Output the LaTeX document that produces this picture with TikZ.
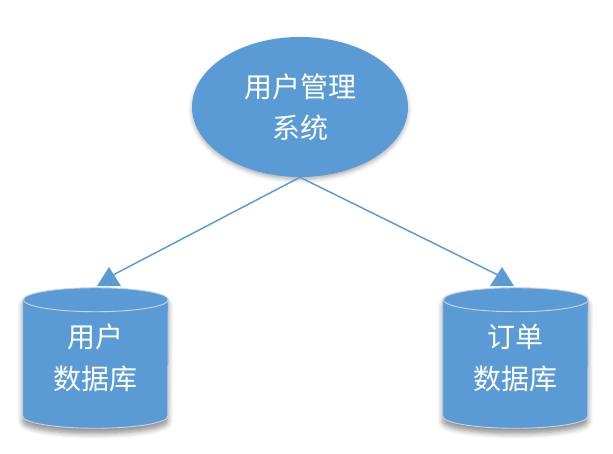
\documentclass[tikz,border=0pt]{standalone}
\usepackage{fontspec}
\newfontfamily\cjk{Noto Sans CJK SC}
\usetikzlibrary{shapes.geometric,shadows.blur}
\definecolor{blu}{HTML}{5B9BD5}
\definecolor{rim}{HTML}{C8D3DE}
\begin{document}
\begin{tikzpicture}[x=0.75pt,y=-0.75pt,
  lbl/.style={text=white, font=\cjk\fontsize{21pt}{31pt}\selectfont, align=center, inner sep=0pt},
  conn/.style={draw=blu, line width=1.1pt},
  tipmark/.style={fill=blu},
  cylbox/.style={minimum width=108.75pt, minimum height=105pt, inner sep=0pt},
  cylbody/.style={fill=blu, draw=rim, line width=0.7pt,
    blur shadow={shadow xshift=0pt, shadow yshift=-4pt, shadow blur steps=6, shadow opacity=45, shadow blur radius=4pt, fill=blu}},
  rimline/.style={draw=rim, line width=0.7pt}]
\useasboundingbox (0,0) rectangle (613,453);
% central system
\node[ellipse, fill=blu, minimum width=162pt, minimum height=105pt, lbl,
  blur shadow={shadow xshift=0pt, shadow yshift=-2pt, shadow opacity=30, shadow blur radius=3pt, fill=blu}]
  (sys) at (300,107) {用户管理\\系统};
% cylinder boxes
\node[cylbox] (udb) at (95.5,358) {};
\node[cylbox] (odb) at (515.5,358) {};
% cylinder bodies
\path[cylbody] ([yshift=-9pt]udb.north west) -- ([yshift=9pt]udb.south west)
  arc[start angle=180, end angle=360, x radius=54.375pt, y radius=9pt]
  -- ([yshift=-9pt]udb.north east)
  arc[start angle=0, end angle=180, x radius=54.375pt, y radius=9pt] -- cycle;
\draw[rimline] ([yshift=-9pt]udb.north east)
  arc[start angle=0, end angle=-180, x radius=54.375pt, y radius=9pt];
\path[cylbody] ([yshift=-9pt]odb.north west) -- ([yshift=9pt]odb.south west)
  arc[start angle=180, end angle=360, x radius=54.375pt, y radius=9pt]
  -- ([yshift=-9pt]odb.north east)
  arc[start angle=0, end angle=180, x radius=54.375pt, y radius=9pt] -- cycle;
\draw[rimline] ([yshift=-9pt]odb.north east)
  arc[start angle=0, end angle=-180, x radius=54.375pt, y radius=9pt];
\node[lbl] (udbtext) at (udb.center) {用户\\数据库};
\node[lbl] (odbtext) at (odb.center) {订单\\数据库};
% connectors
\coordinate (ua) at (109,267);
\coordinate (oa) at (502,267);
\coordinate (ue) at (113,275);
\coordinate (oe) at (498,275);
\draw[conn] (sys.south) -- (ue);
\draw[conn] (sys.south) -- (oe);
\fill[tipmark] (ua) -- ++(-12,19) -- ++(24,0) -- cycle;
\fill[tipmark] (oa) -- ++(-12,19) -- ++(24,0) -- cycle;
\end{tikzpicture}
\end{document}
